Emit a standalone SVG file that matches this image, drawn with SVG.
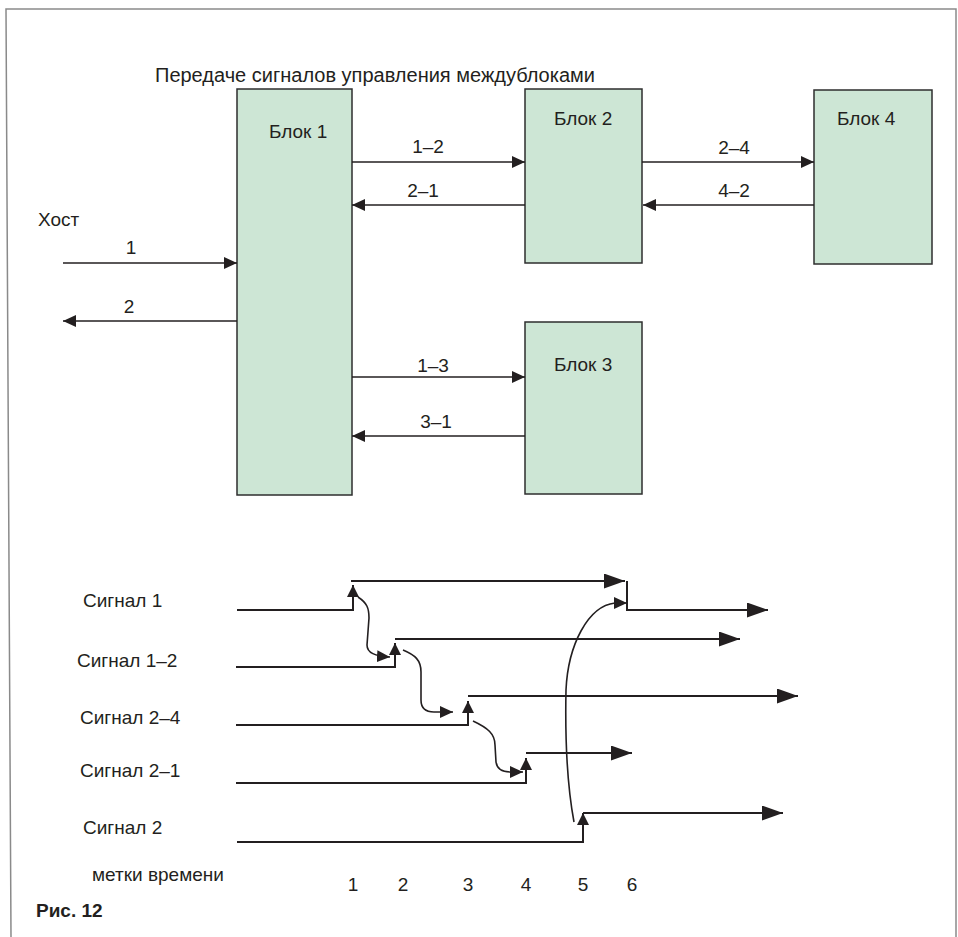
<svg xmlns="http://www.w3.org/2000/svg" width="958" height="937" viewBox="0 0 958 937">
<style>
text{font-family:"Liberation Sans",Arial,sans-serif;font-size:19px;fill:#231f20}
.c{text-anchor:middle}
.blk{fill:#cde6d5;stroke:#2e2e2e;stroke-width:1.5}
.ln{fill:none;stroke:#231f20;stroke-width:1.7}
.tl{fill:none;stroke:#231f20;stroke-width:2}
.cv{fill:none;stroke:#231f20;stroke-width:1.6}
</style>
<defs>
<marker id="a1" markerUnits="userSpaceOnUse" markerWidth="14" markerHeight="13" refX="13" refY="6" orient="auto"><path d="M0,0 L13,6 L0,12 z" fill="#231f20"/></marker>
<marker id="a2" markerUnits="userSpaceOnUse" markerWidth="22" markerHeight="16" refX="21" refY="7.5" orient="auto"><path d="M0,0 L21,7.5 L0,15 z" fill="#231f20"/></marker>
<marker id="a3" markerUnits="userSpaceOnUse" markerWidth="13" markerHeight="13" refX="12" refY="6" orient="auto"><path d="M0,0 L12,6 L0,12 z" fill="#231f20"/></marker>
</defs>
<rect width="958" height="937" fill="#fff"/>
<path d="M11,937 L6,9 L956,9 L956,937" fill="none" stroke="#8a8a8a" stroke-width="1.5"/>
<text x="155" y="82" id="title" style="font-size:20px">Передаче сигналов управления междублоками</text>

<g id="block1"><rect class="blk" x="237" y="89" width="115" height="406"/><text x="269" y="138">Блок 1</text></g>
<g id="block2"><rect class="blk" x="525" y="89" width="117" height="174"/><text x="554" y="125">Блок 2</text></g>
<g id="block4"><rect class="blk" x="814" y="90" width="118" height="174"/><text x="837" y="125">Блок 4</text></g>
<g id="block3"><rect class="blk" x="525" y="322" width="117" height="172"/><text x="554" y="371">Блок 3</text></g>
<g id="host"><text x="38" y="226">Хост</text></g>

<g id="connectors">
<path class="ln" d="M63,263 H237" marker-end="url(#a1)"/>
<path class="ln" d="M237,321 H63" marker-end="url(#a1)"/>
<path class="ln" d="M352,162 H525" marker-end="url(#a1)"/>
<path class="ln" d="M525,205 H352" marker-end="url(#a1)"/>
<path class="ln" d="M642,162 H814" marker-end="url(#a1)"/>
<path class="ln" d="M814,205 H643" marker-end="url(#a1)"/>
<path class="ln" d="M352,377 H525" marker-end="url(#a1)"/>
<path class="ln" d="M525,436 H352" marker-end="url(#a1)"/>
<text class="c" x="131" y="254">1</text>
<text class="c" x="129" y="313">2</text>
<text class="c" x="428" y="153">1–2</text>
<text class="c" x="423" y="197">2–1</text>
<text class="c" x="734" y="154">2–4</text>
<text class="c" x="734" y="197">4–2</text>
<text class="c" x="433" y="372">1–3</text>
<text class="c" x="436" y="428">3–1</text>
</g>

<g id="timing">
<text x="83" y="607">Сигнал 1</text>
<text x="77" y="667">Сигнал 1–2</text>
<text x="80" y="724">Сигнал 2–4</text>
<text x="80" y="777">Сигнал 2–1</text>
<text x="83" y="834">Сигнал 2</text>
<text x="92" y="881">метки времени</text>
<text class="c" x="353" y="891">1</text>
<text class="c" x="403" y="891">2</text>
<text class="c" x="468" y="891">3</text>
<text class="c" x="526" y="891">4</text>
<text class="c" x="583" y="891">5</text>
<text class="c" x="632" y="891">6</text>

<path class="tl" d="M237,610 H353 V585" marker-end="url(#a3)"/>
<path class="tl" d="M351,581 H625" marker-end="url(#a2)"/>
<path class="tl" d="M627,581 V610 H768" marker-end="url(#a2)"/>
<path class="tl" d="M236,667 H395 V643" marker-end="url(#a3)"/>
<path class="tl" d="M395,639 H740" marker-end="url(#a2)"/>
<path class="tl" d="M236,725 H468 V701" marker-end="url(#a3)"/>
<path class="tl" d="M468,696 H798" marker-end="url(#a2)"/>
<path class="tl" d="M236,783 H526 V758" marker-end="url(#a3)"/>
<path class="tl" d="M526,753 H632" marker-end="url(#a2)"/>
<path class="tl" d="M237,842 H583 V813" marker-end="url(#a3)"/>
<path class="tl" d="M583,813 H783" marker-end="url(#a2)"/>

<path class="cv" d="M358,597 C367,603 369,608 369,618 L367,645 C367,653 375,656 390,657" marker-end="url(#a1)"/>
<path class="cv" d="M403,650 C415,655 421,660 421,672 L421,700 C421,708 426,712 434,712 L453,712" marker-end="url(#a1)"/>
<path class="cv" d="M473,721 C488,728 495,734 495,745 L496,762 C497,769 502,772 510,772 L523,772" marker-end="url(#a1)"/>
<path class="cv" d="M574,822 C568,790 565,740 566,690 C568,645 588,606 615,603 L627,603" marker-end="url(#a1)"/>
</g>
<text x="36" y="917" style="font-weight:bold">Рис. 12</text>
</svg>
